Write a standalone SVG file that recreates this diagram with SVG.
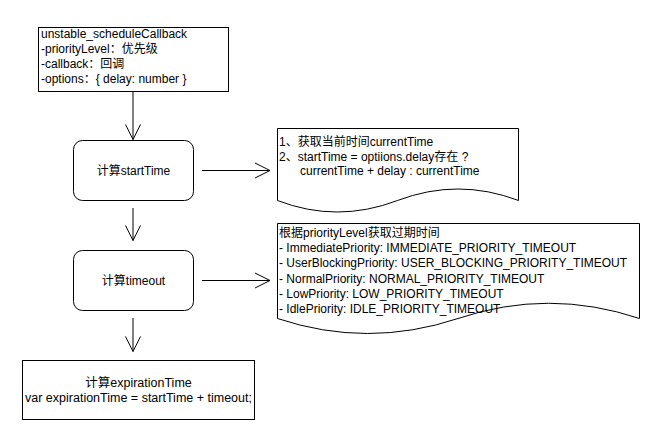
<svg xmlns="http://www.w3.org/2000/svg" width="660" height="441" viewBox="0 0 660 441">
<style>
.box{fill:#fff;stroke:#000;stroke-width:1}
.t{font-family:"Liberation Sans","Noto Sans CJK SC",Arial,sans-serif;font-size:12px;fill:#000}
.c{text-anchor:middle}
.ln{fill:none;stroke:#000;stroke-width:1}
</style>
<defs>
<marker id="open" markerUnits="userSpaceOnUse" markerWidth="17" markerHeight="17" viewBox="-1 -1 17 17" refX="15" refY="7.5" orient="auto" overflow="visible">
<path d="M0,0 L15,7.5 L0,15" fill="none" stroke="#000" stroke-width="1"/>
</marker>
</defs>
<rect width="660" height="441" fill="#fff"/>
<g id="connectors">
<path class="ln" d="M133,92 L133,139.5" marker-end="url(#open)"/>
<path class="ln" d="M133,208 L133,240.5" marker-end="url(#open)"/>
<path class="ln" d="M133,318 L133,351.5" marker-end="url(#open)"/>
<path class="ln" d="M202,170.5 L270,170.5" marker-end="url(#open)"/>
<path class="ln" d="M202,280.5 L270,280.5" marker-end="url(#open)"/>
</g>
<g id="node-schedule">
<rect class="box" x="38.5" y="27.5" width="190" height="64"/>
<text class="t" x="41" y="37.5">unstable_scheduleCallback</text>
<text class="t" x="41" y="52.5">-priorityLevel：优先级</text>
<text class="t" x="41" y="67.5">-callback：回调</text>
<text class="t" x="41" y="82.5">-options：{ delay: number }</text>
</g>
<g id="node-starttime">
<rect class="box" x="73.5" y="140.5" width="120" height="60" rx="9" ry="9"/>
<text class="t c" x="133.5" y="175">计算startTime</text>
</g>
<g id="node-timeout">
<rect class="box" x="73.5" y="250.5" width="120" height="60" rx="9" ry="9"/>
<text class="t c" x="133.5" y="285">计算timeout</text>
</g>
<g id="node-expiration">
<rect class="box" x="22.5" y="360.5" width="232" height="59"/>
<text class="t c" x="138.5" y="386.5" style="font-size:12.5px">计算expirationTime</text>
<text class="t c" x="138.5" y="401.5" style="font-size:12.5px">var expirationTime = startTime + timeout;</text>
</g>
<g id="doc-starttime">
<path class="box" d="M277.5,128.5 L518.5,128.5 L518.5,200.5 Q458,177.5 397.5,200.5 Q337,223.5 277.5,200.5 Z"/>
<text class="t" x="279" y="146">1、获取当前时间currentTime</text>
<text class="t" x="279" y="160.5">2、startTime = optiions.delay存在 ?</text>
<text class="t" x="300" y="175">currentTime + delay : currentTime</text>
</g>
<g id="doc-timeout">
<path class="box" d="M277.5,223.5 L639.5,223.5 L639.5,318.5 Q548.5,288 458,318.5 Q367.5,348.5 277.5,318.5 Z"/>
<text class="t" x="279" y="236.5">根据priorityLevel获取过期时间</text>
<text class="t" x="279" y="252">- ImmediatePriority: IMMEDIATE_PRIORITY_TIMEOUT</text>
<text class="t" x="279" y="267">- UserBlockingPriority: USER_BLOCKING_PRIORITY_TIMEOUT</text>
<text class="t" x="279" y="282.5">- NormalPriority: NORMAL_PRIORITY_TIMEOUT</text>
<text class="t" x="279" y="298">- LowPriority: LOW_PRIORITY_TIMEOUT</text>
<text class="t" x="279" y="313">- IdlePriority: IDLE_PRIORITY_TIMEOUT</text>
</g>
</svg>
